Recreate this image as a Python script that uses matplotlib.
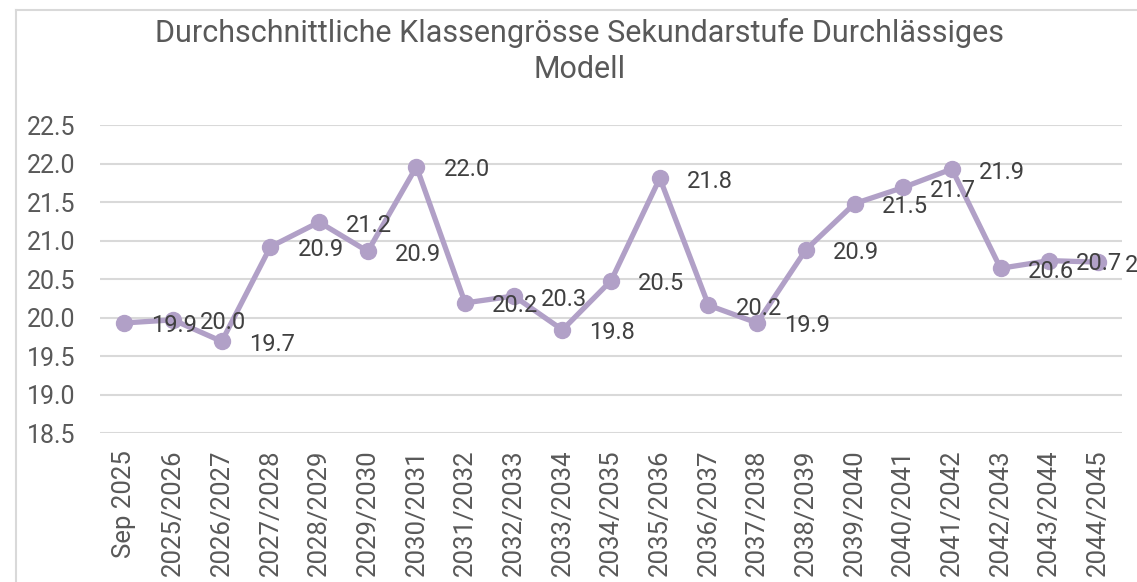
import matplotlib.pyplot as plt
from matplotlib.lines import Line2D

plt.rcParams['font.family'] = ['Roboto', 'DejaVu Sans']

# Schuljahre und Durchschnittswerte
years = ['Sep 2025', '2025/2026', '2026/2027', '2027/2028', '2028/2029', '2029/2030',
         '2030/2031', '2031/2032', '2032/2033', '2033/2034', '2034/2035', '2035/2036',
         '2036/2037', '2037/2038', '2038/2039', '2039/2040', '2040/2041', '2041/2042',
         '2042/2043', '2043/2044', '2044/2045']
class_size = [19.93, 19.97, 19.69, 20.92, 21.24, 20.86, 21.96, 20.19, 20.28, 19.84, 20.48,
              21.81, 20.16, 19.93, 20.88, 21.48, 21.69, 21.93, 20.64, 20.74, 20.72]
y_ticks = [18.5, 19.0, 19.5, 20.0, 20.5, 21.0, 21.5, 22.0, 22.5]

line_color = '#B1A0C7'
text_color = '#595959'

fig = plt.figure(figsize=(11.37, 5.82), dpi=100)
ax = fig.add_axes([0.088, 0.256, 0.899, 0.529])

x = list(range(len(years)))
ax.plot(x, class_size, color=line_color, linewidth=3.8, marker='o',
        markersize=11.5, solid_capstyle='round', zorder=3)

for xi, v in zip(x, class_size):
    ax.annotate(f'{v:.1f}', (xi, v), xytext=(27, -3), textcoords='offset pixels',
                ha='left', va='center', fontsize=17, color='#404040', zorder=4,
                annotation_clip=False)

ax.set_xlim(-0.5, len(years) - 0.5)
ax.set_ylim(18.5, 22.5)
ax.set_yticks(y_ticks)
ax.set_yticklabels([f'{t:.1f}' for t in y_ticks])
ax.set_xticks(x)
ax.set_xticklabels(years, rotation=90)
ax.tick_params(axis='both', length=0, labelsize=18, labelcolor=text_color)
ax.tick_params(axis='x', pad=12, labelsize=18.5)
ax.tick_params(axis='y', pad=18)
ax.grid(axis='y', color='#D9D9D9', linewidth=1.5)
ax.set_axisbelow(True)
for s in ax.spines.values():
    s.set_visible(False)

fig.text(0.51, 0.912, 'Durchschnittliche Klassengrösse Sekundarstufe Durchlässiges\nModell',
         ha='center', va='center', fontsize=22, color=text_color, linespacing=1.3)

# Rahmen des Diagramms
fig.add_artist(Line2D([16 / 1137, 16 / 1137], [0, 1 - 10 / 582], transform=fig.transFigure,
                      color='#D9D9D9', linewidth=1.5))
fig.add_artist(Line2D([16 / 1137, 1], [1 - 10 / 582, 1 - 10 / 582], transform=fig.transFigure,
                      color='#D9D9D9', linewidth=1.5))

plt.savefig('out.png', dpi=100)
